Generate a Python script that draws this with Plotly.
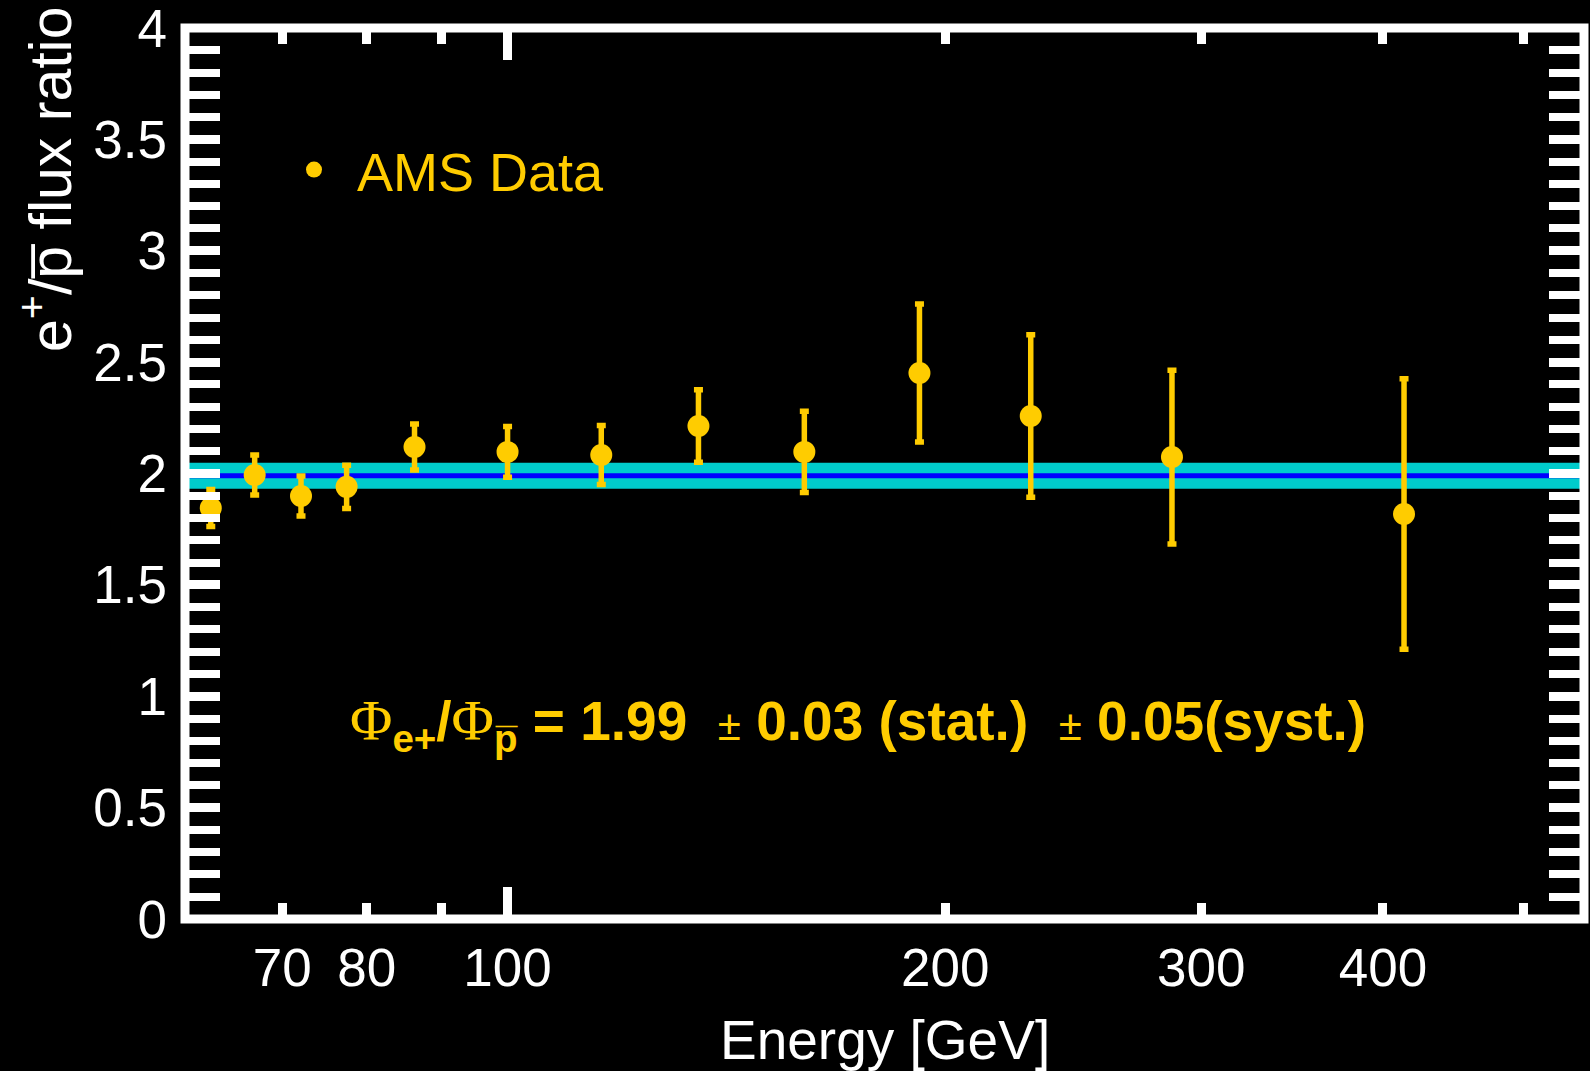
import plotly.graph_objects as go
import math

# ---- data ----
energy = [62.5, 67.0, 72.1, 77.5, 86.3, 100.0, 116.0, 135.3, 160.0, 192.0, 229.0, 286.4, 413.6]
ratio = [1.845, 1.993, 1.899, 1.940, 2.119, 2.097, 2.083, 2.213, 2.097, 2.451, 2.258, 2.074, 1.818]
ratio_err = [0.083, 0.090, 0.090, 0.097, 0.103, 0.114, 0.132, 0.163, 0.182, 0.31, 0.365, 0.39, 0.607]

fit_value = 1.99
fit_band_lo = 1.932
fit_band_hi = 2.048
x_range = [60, 550]
y_range = [0, 4]

x_tickvals = [70, 80, 100, 200, 300, 400]
x_ticktext = ["70", "80", "100", "200", "300", "400"]
x_minor_ticks = [90, 500]
x_long_ticks = [100]
y_tickvals = [0, 0.5, 1, 1.5, 2, 2.5, 3, 3.5, 4]
y_ticktext = ["0", "0.5", "1", "1.5", "2", "2.5", "3", "3.5", "4"]

GOLD = "#FFCC00"
FONT = "Liberation Sans, Arial, sans-serif"

fig = go.Figure()

# fit band
fig.add_trace(go.Scatter(x=x_range, y=[fit_band_lo, fit_band_lo], mode="lines",
                         line=dict(width=0, color="#00CCCC"), showlegend=False, hoverinfo="skip"))
fig.add_trace(go.Scatter(x=x_range, y=[fit_band_hi, fit_band_hi], mode="lines", fill="tonexty",
                         fillcolor="#00CCCC", line=dict(width=0, color="#00CCCC"),
                         showlegend=False, hoverinfo="skip"))
fig.add_trace(go.Scatter(x=x_range, y=[fit_value, fit_value], mode="lines",
                         line=dict(width=5, color="#0000FF"), showlegend=False, hoverinfo="skip"))

# data
fig.add_trace(go.Scatter(x=energy, y=ratio, mode="markers",
                         marker=dict(size=22, color=GOLD),
                         error_y=dict(type="data", array=ratio_err, visible=True,
                                      color=GOLD, thickness=5.5, width=4.5),
                         showlegend=False, name="AMS Data"))
# legend entry
fig.add_trace(go.Scatter(x=[None], y=[None], mode="markers",
                         marker=dict(size=22, color=GOLD), name="AMS Data", showlegend=True))

# secondary x axis for the long tick at 100
fig.add_trace(go.Scatter(x=[None], y=[None], xaxis="x2", showlegend=False, hoverinfo="skip"))

axis_common = dict(showline=False, mirror="allticks", ticklabeloverflow="allow", automargin=False,
                   ticks="inside", tickcolor="white", showgrid=False, zeroline=False)

fig.update_layout(
    width=1590, height=1071, autosize=False,
    margin=dict(l=185, r=6, t=28, b=152, pad=0),
    paper_bgcolor="black", plot_bgcolor="black",
    font=dict(family=FONT, color="white"),
    xaxis=dict(type="log", range=[math.log10(x_range[0]), math.log10(x_range[1])],
               tickvals=x_tickvals, ticktext=x_ticktext, ticklen=16, tickwidth=9,
               tickfont=dict(size=53, color="white", family=FONT), ticklabelstandoff=13,
               minor=dict(tickvals=x_minor_ticks, ticks="inside", ticklen=16, tickwidth=9,
                          tickcolor="white", showgrid=False),
               **axis_common),
    xaxis2=dict(type="log", range=[math.log10(x_range[0]), math.log10(x_range[1])],
                overlaying="x", anchor="y", side="bottom",
                tickvals=x_long_ticks, showticklabels=False, ticklen=32, tickwidth=9,
                **axis_common),
    yaxis=dict(range=y_range, tickvals=y_tickvals, ticktext=y_ticktext,
               ticklen=35, tickwidth=9,
               tickfont=dict(size=53, color="white", family=FONT), ticklabelstandoff=17,
               minor=dict(dtick=0.1, tick0=0, ticks="inside", ticklen=17, tickwidth=8,
                          tickcolor="white", showgrid=False),
               **axis_common),
    legend=dict(x=(271 - 185) / 1399, y=1 - (170 - 28) / 891, xanchor="left", yanchor="middle",
                bgcolor="rgba(0,0,0,0)", font=dict(size=54, color=GOLD, family=FONT),
                itemwidth=76),
    showlegend=True,
    shapes=[dict(type="rect", xref="paper", yref="paper", x0=0, x1=1, y0=0, y1=1,
                 line=dict(color="white", width=9), layer="above")],
)

phi = '<span style="font-family:Liberation Serif, Times New Roman, serif;font-weight:normal;font-size:58px">\u03a6</span>'
pm = '<span style="font-weight:normal;font-size:42px">\u00b1</span>'
formula = (phi + "<sub>e+</sub>/" + phi + "<sub>p\u0305</sub> = 1.99\u00a0\u00a0" + pm +
           " 0.03 (stat.)\u00a0\u00a0" + pm + " 0.05(syst.)")
fig.add_annotation(text="<b>" + formula + "</b>", xref="paper", yref="paper",
                   x=(348 - 185) / 1399, y=1 - (724 - 28) / 891, xanchor="left", yanchor="middle",
                   showarrow=False, font=dict(size=55, color=GOLD, family=FONT))

fig.add_annotation(text="Energy [GeV]", xref="paper", yref="paper",
                   x=0.5, y=-(1040 - 919) / 891, xanchor="center", yanchor="middle",
                   showarrow=False, font=dict(size=55, color="white", family=FONT))

fig.add_annotation(text="e<sup>+</sup>/p\u0305 flux ratio", xref="paper", yref="paper",
                   x=(46 - 185) / 1399, y=1 - (179 - 28) / 891, xanchor="center", yanchor="middle",
                   textangle=-90, showarrow=False, font=dict(size=59, color="white", family=FONT))

fig.write_html("out.html")
